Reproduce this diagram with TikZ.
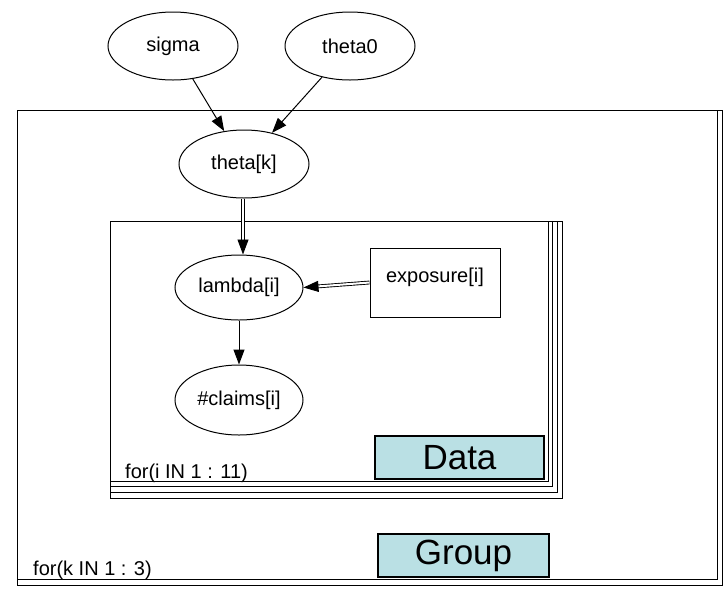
\documentclass[tikz,border=0pt]{standalone}
\usepackage{fontspec}
\setmainfont{Liberation Sans}
\usetikzlibrary{shapes.geometric,arrows.meta}

\definecolor{tagblue}{RGB}{186,224,228}

\tikzset{
	varnode/.style={draw, ellipse, line width=1pt, inner sep=0pt,
		minimum width=130pt, minimum height=68pt, font=\fontsize{20}{22}\selectfont},
	constnode/.style={draw, rectangle, line width=1pt, inner sep=0pt,
		minimum width=130pt, minimum height=69pt, text depth=14pt, font=\fontsize{20}{22}\selectfont},
	plate/.style={line width=1pt},
	platelabel/.style={anchor=base west, inner sep=0pt, font=\fontsize{20}{22}\selectfont},
	tagbox/.style={draw, fill=tagblue, line width=1.6pt, inner sep=0pt,
		minimum height=43pt, font=\fontsize{35}{40}\selectfont},
	stoch/.style={line width=1pt, -{Triangle[length=15pt,width=11pt]}},
	logic/.style={line width=0.9pt, double, double distance=2pt, -{Triangle[length=15pt,width=11pt]}},
}

\begin{document}
\begin{tikzpicture}[x=1pt, y=-1pt]

		\useasboundingbox (0,0) rectangle (723,590);

		% plate k
		\draw[plate] (17,110) rectangle (717,579);
		\draw[plate] (17,110) rectangle (722,585);
		\node[platelabel] (forK) at (33,575) {for(k IN 1 : 3)};

		% plate i
		\foreach \s in {0,...,3}
			\draw[plate] (110,221) rectangle ({548+4.7*\s},{481+5.7*\s});
		\node[platelabel] (forI) at (125,478) {for(i IN 1 : 11)};

		% nodes
		\node[varnode] (sigma)  at (173,46)  {sigma};
		\node[varnode] (theta0) at (350,46)  {theta0};
		\node[varnode] (thetaK) at (244,164) {theta[k]};
		\node[varnode, minimum width=128pt, minimum height=65pt] (lambdaI) at (239,287.5) {lambda[i]};
		\node[varnode, minimum width=128pt, minimum height=70pt] (claimsI) at (239,400) {\#claims[i]};
		\node[constnode] (exposureI) at (435,282.5) {exposure[i]};

		\node[tagbox, minimum width=169pt] (data)  at (459.5,457.5) {Data};
		\node[tagbox, minimum width=171pt] (group) at (463.5,555.5) {Group};

		% edges
		\draw[stoch] (sigma) -- (thetaK);
		\draw[stoch] (theta0) -- (thetaK);
		\draw[logic] (thetaK.south) ++(-1,0) -- (243,254.5);
		\draw[logic] (exposureI.west) -- (lambdaI.east);
		\draw[stoch] (lambdaI) -- (claimsI);

	\end{tikzpicture}
\end{document}
